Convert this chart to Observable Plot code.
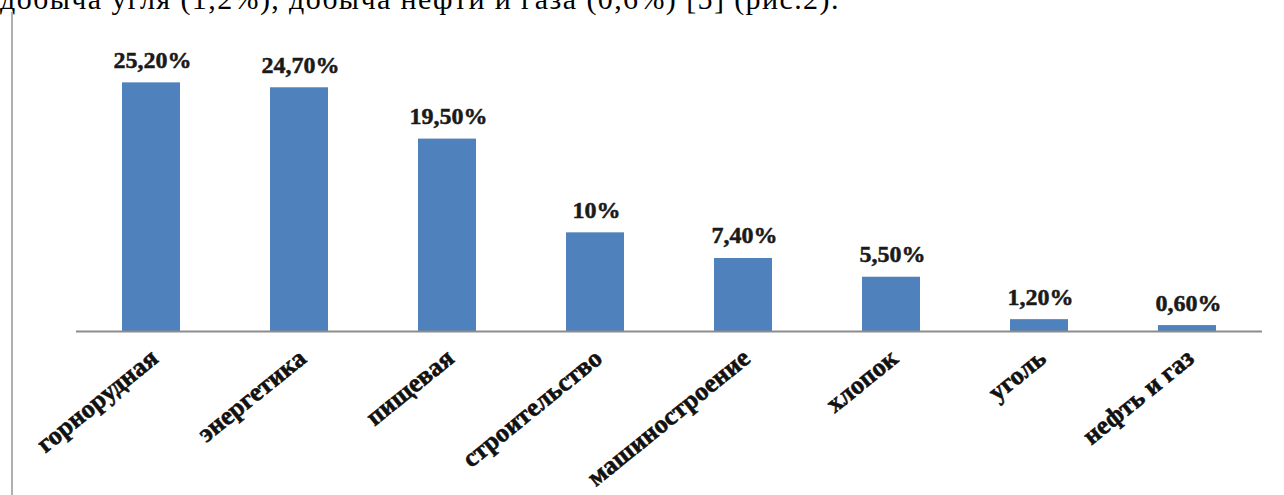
<!DOCTYPE html>
<html>
<head>
<meta charset="utf-8">
<script src="https://cdn.jsdelivr.net/npm/d3@7"></script>
<script src="https://cdn.jsdelivr.net/npm/@observablehq/plot@0.6"></script>
<style>
  html, body { margin: 0; padding: 0; background: #fff; }
  #wrap { position: relative; width: 1284px; height: 495px; overflow: hidden; }
  #topline { position: absolute; left: 0; top: -16px; white-space: nowrap;
    font-family: "Liberation Serif", "Times New Roman", serif; font-size: 30px;
    line-height: 30px; letter-spacing: 1.4px; color: #000; }
  #leftrule { position: absolute; left: 11px; top: 12px; width: 0; height: 483px;
    border-left: 2px solid #b0b0b0; }
  #chart { position: absolute; left: 0; top: 0; }
</style>
</head>
<body>
<div id="wrap">
  <div id="chart"></div>
  <div id="leftrule"></div>
  <div id="topline">добыча угля (1,2%), добыча нефти и газа (0,6%) [5] (рис.2).</div>
</div>
<script>
const categories = ["горнорудная", "энергетика", "пищевая", "строительство", "машиностроение", "хлопок", "уголь", "нефть и газ"];
const values = [25.2, 24.7, 19.5, 10, 7.4, 5.5, 1.2, 0.6];
const valueLabels = ["25,20%", "24,70%", "19,50%", "10%", "7,40%", "5,50%", "1,20%", "0,60%"];

const data = categories.map((c, i) => ({cat: c, value: values[i], label: valueLabels[i]}));

const chart = Plot.plot({
  width: 1284,
  height: 495,
  marginLeft: 76,
  marginRight: 22,
  marginTop: 35,
  marginBottom: 164,
  style: {background: "transparent", fontFamily: "'Liberation Serif', 'Times New Roman', serif"},
  x: {domain: categories, paddingInner: 0.61, paddingOuter: 0.305, axis: null},
  y: {domain: [0, 30], axis: null},
  marks: [
    Plot.barY(data, {x: "cat", y: "value", fill: "#4f81bd"}),
    Plot.ruleY([0], {stroke: "#8c8c8c", strokeWidth: 2}),
    Plot.text(data, {x: "cat", y: "value", text: "label", dy: -15, dx: 1, lineAnchor: "bottom",
      fontSize: 24, fontWeight: "bold", fill: "#1a1a1a", stroke: "#1a1a1a", strokeWidth: 0.5,
      letterSpacing: "4px"}),
    Plot.text(data, {x: "cat", y: () => 0, text: "cat", rotate: -39, textAnchor: "end", lineAnchor: "middle",
      dx: 3, dy: 23, fontSize: 26, fontWeight: "bold", fill: "#111", stroke: "#111", strokeWidth: 0.6})
  ]
});
document.getElementById("chart").appendChild(chart);
</script>
</body>
</html>
